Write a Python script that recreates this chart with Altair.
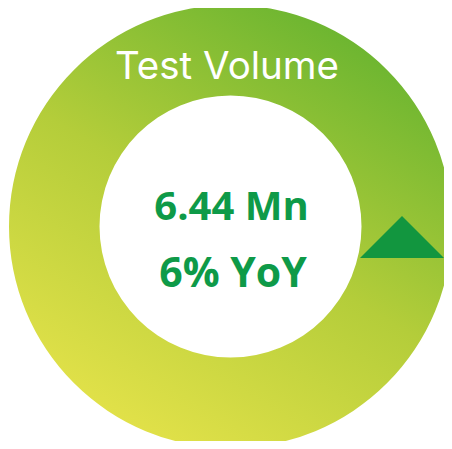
import altair as alt
import pandas as pd

# Data
metric_name = ["Test Volume"]
metric_value = [6.44]
metric_unit = ["Mn"]
yoy_pct = [6]
yoy_direction = ["up"]
ring_share = [100]

df = pd.DataFrame({
    "name": metric_name,
    "value": metric_value,
    "unit": metric_unit,
    "yoy": yoy_pct,
    "dir": yoy_direction,
    "share": ring_share,
})
df["value_label"] = df["value"].map(lambda v: f"{v:.2f}") + " " + df["unit"]
df["yoy_label"] = df["yoy"].astype(str) + "% YoY"

CX, CY = 222.5, 218.5

gradient = alt.Gradient(
    gradient="linear",
    stops=[
        alt.GradientStop(color="#E8E44B", offset=0),
        alt.GradientStop(color="#B4CD3A", offset=0.5),
        alt.GradientStop(color="#62B22F", offset=1),
    ],
    x1=0.2, y1=1, x2=0.8, y2=0,
)

base = alt.Chart(df)

ring = base.mark_arc(innerRadius=131, outerRadius=221.5, color=gradient, stroke=None).encode(
    theta=alt.Theta("share:Q"),
    x=alt.value(CX),
    y=alt.value(CY),
)

title = base.mark_text(
    font="Inter", fontSize=38.5, color="white",
    baseline="alphabetic", align="center"
).encode(text="name:N", x=alt.value(219), y=alt.value(71))

val = base.mark_text(
    font="Open Sans", fontWeight="bold", fontSize=40, color="#0E9A48",
    baseline="alphabetic", align="center"
).encode(text="value_label:N", x=alt.value(223.5), y=alt.value(212))

yoy = base.mark_text(
    font="Open Sans", fontWeight="bold", fontSize=41, color="#0E9A48",
    baseline="alphabetic", align="center"
).encode(text="yoy_label:N", x=alt.value(225), y=alt.value(279))

tri = base.mark_point(
    shape="M0,-0.5L1,0.5L-1,0.5Z", filled=True, opacity=1, color="#12963F", size=7056, strokeWidth=0
).encode(x=alt.value(394), y=alt.value(229))

chart = alt.layer(ring, title, val, yoy, tri).properties(
    width=436, height=433, padding=0, autosize=alt.AutoSizeParams(type="none")
).configure_view(stroke=None)

chart.save("out.html", embed_options={"renderer": "svg", "actions": False})
